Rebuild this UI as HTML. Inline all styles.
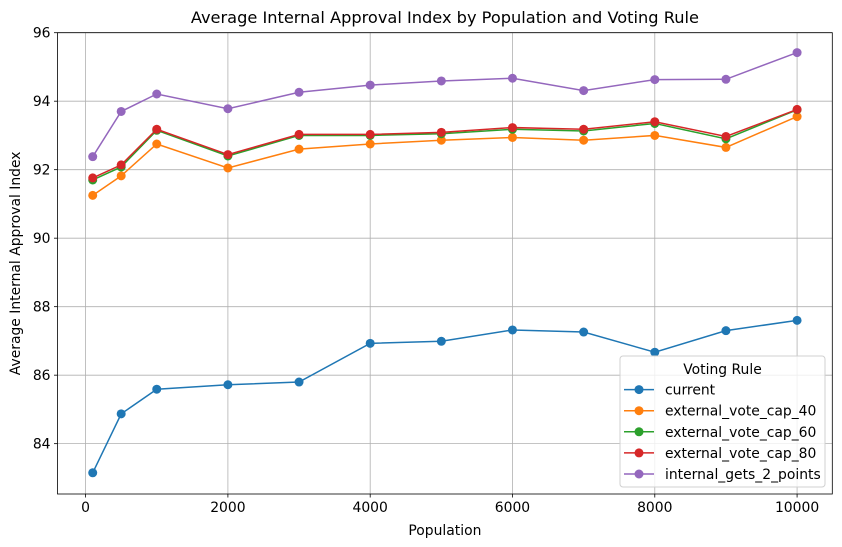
<!DOCTYPE html>
<html><head><meta charset="utf-8"><style>
body{margin:0;background:#fff;}
svg{display:block;font-family:"DejaVu Sans","Liberation Sans",sans-serif;}
</style></head><body>
<svg id="c" width="842" height="547" viewBox="0 0 842 547" xmlns="http://www.w3.org/2000/svg"></svg>
<script>
const populations=[100,500,1000,2000,3000,4000,5000,6000,7000,8000,9000,10000];
const seriesNames=["current","external_vote_cap_40","external_vote_cap_60","external_vote_cap_80","internal_gets_2_points"];
const current=[83.15,84.87,85.59,85.72,85.80,86.93,86.99,87.32,87.26,86.67,87.30,87.60];
const cap40=[91.25,91.82,92.75,92.05,92.60,92.75,92.86,92.94,92.86,93.00,92.65,93.55];
const cap60=[91.70,92.08,93.15,92.40,93.00,93.00,93.05,93.18,93.13,93.35,92.90,93.75];
const cap80=[91.76,92.14,93.18,92.44,93.03,93.03,93.09,93.23,93.18,93.40,92.97,93.76];
const internal2=[92.38,93.70,94.21,93.78,94.26,94.47,94.59,94.67,94.31,94.63,94.64,95.42];
const xTicks=[0,2000,4000,6000,8000,10000];
const yTicks=[84,86,88,90,92,94,96];
const colors=["#1f77b4","#ff7f0e","#2ca02c","#d62728","#9467bd"];
const allSeries=[current,cap40,cap60,cap80,internal2];

const L=57.5,R=832.3,T=32.7,B=494;
const xMin=-395,xMax=10495,yMin=82.53,yMax=96.0;
const sx=v=>L+(v-xMin)/(xMax-xMin)*(R-L);
const sy=v=>B-(v-yMin)/(yMax-yMin)*(B-T);
const svg=document.getElementById('c');
const NS="http://www.w3.org/2000/svg";
function mk(tag,attrs,parent){const e=document.createElementNS(NS,tag);for(const k in attrs)e.setAttribute(k,attrs[k]);(parent||svg).appendChild(e);return e;}

const grid=mk('g',{});


xTicks.forEach(t=>{
  const x=sx(t);
  mk('line',{x1:x,x2:x,y1:T,y2:B,stroke:'#b0b0b0','stroke-width':0.8},grid);
  mk('line',{x1:x,x2:x,y1:B,y2:B+3.5,stroke:'#000','stroke-width':0.8},grid);
  const tx=mk('text',{x:x,y:B+18,'text-anchor':'middle','font-size':'13.9px',fill:'#000'});
  tx.textContent=t;
  
  
});
yTicks.forEach(t=>{
  const y=sy(t);
  mk('line',{x1:L,x2:R,y1:y,y2:y,stroke:'#b0b0b0','stroke-width':0.8},grid);
  mk('line',{x1:L-3.5,x2:L,y1:y,y2:y,stroke:'#000','stroke-width':0.8},grid);
  const tx=mk('text',{x:L-7,y:y+5,'text-anchor':'end','font-size':'13.9px',fill:'#000'});
  tx.textContent=t;
  
  
});

allSeries.forEach((s,i)=>{
  const g=mk('g',{});
  
  
  const pts=s.map((v,j)=>sx(populations[j])+','+sy(v)).join(' ');
  mk('polyline',{points:pts,fill:'none',stroke:colors[i],'stroke-width':1.5},g);
  s.forEach((v,j)=>{
    const c=mk('circle',{cx:sx(populations[j]),cy:sy(v),r:4.5,fill:colors[i]},g);
    
    
  });
});

const frame=mk('rect',{x:L,y:T,width:R-L,height:B-T,fill:'none',stroke:'#000','stroke-width':0.8});



const title=mk('text',{x:(L+R)/2,y:23,'text-anchor':'middle','font-size':'16.2px',fill:'#000'});
title.textContent='Average Internal Approval Index by Population and Voting Rule';


const xl=mk('text',{x:(L+R)/2,y:535,'text-anchor':'middle','font-size':'13.9px',fill:'#000'});
xl.textContent='Population';


const yl=mk('text',{x:20,y:(T+B)/2,'text-anchor':'middle','font-size':'13.9px',fill:'#000',transform:'rotate(-90 20 '+((T+B)/2)+')'});
yl.textContent='Average Internal Approval Index';



const lg=mk('g',{});


mk('rect',{x:620,y:356,width:205,height:131,rx:3,fill:'#fff','fill-opacity':0.8,stroke:'#d0d0d0','stroke-width':1},lg);
const lt=mk('text',{x:722.5,y:374,'text-anchor':'middle','font-size':'13.9px',fill:'#000'},lg);
lt.textContent='Voting Rule';
seriesNames.forEach((n,i)=>{
  const y=389.6+i*21.1;
  const e=mk('g',{},lg);
  
  
  mk('line',{x1:624,x2:654,y1:y,y2:y,stroke:colors[i],'stroke-width':1.5},e);
  mk('circle',{cx:639,cy:y,r:4.5,fill:colors[i]},e);
  const t=mk('text',{x:665,y:y+5,'font-size':'13.9px',fill:'#000'},e);
  t.textContent=n;
});
</script>
</body></html>
